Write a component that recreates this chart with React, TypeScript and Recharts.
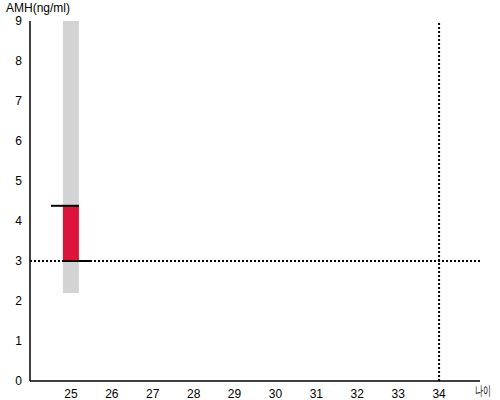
import { ComposedChart, Bar, XAxis, YAxis, ReferenceLine } from 'recharts';

// age categories and AMH values
const ages = [25];
const normalLow = [2.2];
const normalHigh = [9];
const amhLow = [3];
const amhHigh = [4.38];

const ageTicks = [25, 26, 27, 28, 29, 30, 31, 32, 33, 34];
const amhTicks = [0, 1, 2, 3, 4, 5, 6, 7, 8, 9];
const ageDomain = [24, 35];
const amhDomain = [0, 9];

const amhThreshold = 3;
const ageThreshold = 34;

const data = ages.map((age, i) => ({
    age,
    normal: [normalLow[i], normalHigh[i]],
    amh: [amhLow[i], amhHigh[i]],
}));

const font = '"Liberation Sans", Arial, sans-serif';

// red bar with a black cap on top (extends left) and on bottom (extends right)
const AmhShape = (props: any) => {
    const { x, y, width, height } = props;
    return (
        <g>
            <rect x={x} y={y} width={width} height={height} fill="#DC143C" />
            <line x1={x - 12} x2={x + width} y1={y} y2={y} stroke="#000" strokeWidth={2} />
            <line x1={x} x2={x + width + 12} y1={y + height} y2={y + height} stroke="#000" strokeWidth={2} />
        </g>
    );
};

const App = () => {
    return (
        <div style={{ position: 'absolute', left: 0, top: 0, fontFamily: font }}>
            <ComposedChart
                width={500}
                height={400}
                data={data}
                margin={{ top: 21, right: 20, left: 0, bottom: 0 }}
            >
                <XAxis
                    dataKey="age"
                    type="number"
                    domain={ageDomain}
                    ticks={ageTicks}
                    height={19}
                    tickLine={false}
                    stroke="#000"
                    strokeWidth={1.5}
                    tick={{ fill: '#000', fontSize: 12, fontFamily: font }}
                    label={{
                        content: () => (
                            <text x={475} y={395} fontSize={13} textLength={16} lengthAdjust="spacingAndGlyphs" fontFamily={font} fill="#000">나이</text>
                        ),
                    }}
                />
                <XAxis xAxisId="amh" dataKey="age" type="number" domain={ageDomain} hide />
                <YAxis
                    type="number"
                    domain={amhDomain}
                    ticks={amhTicks}
                    width={30}
                    tickLine={false}
                    stroke="#000"
                    strokeWidth={1.5}
                    tick={{ fill: '#000', fontSize: 12, fontFamily: font }}
                    label={{
                        content: () => (
                            <text x={6} y={12} fontSize={12} fontFamily={font} fill="#000">AMH(ng/ml)</text>
                        ),
                    }}
                />
                <Bar dataKey="normal" fill="#D3D3D3" barSize={16} isAnimationActive={false} />
                <ReferenceLine y={amhThreshold} stroke="#000" strokeWidth={2} strokeDasharray="2 2" />
                <ReferenceLine x={ageThreshold} stroke="#000" strokeWidth={2} strokeDasharray="2 2" />
                <Bar dataKey="amh" xAxisId="amh" barSize={16} shape={AmhShape} isAnimationActive={false} />
            </ComposedChart>
        </div>
    );
};

export default App;
